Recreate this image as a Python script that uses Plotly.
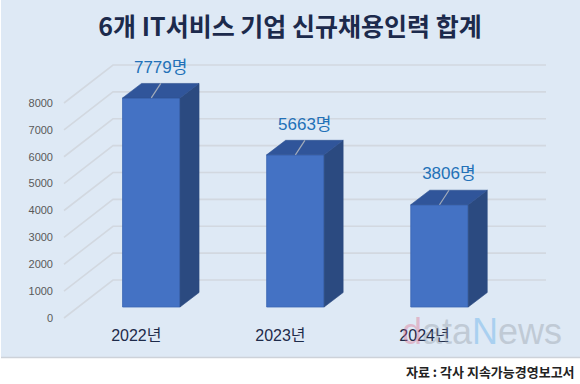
import plotly.graph_objects as go

# ---- data ----
YEARS = ["2022년", "2023년", "2024년"]
VALUES = [7779, 5663, 3806]
Y_TICKS = [0, 1000, 2000, 3000, 4000, 5000, 6000, 7000, 8000]
TITLE = "6개 IT서비스 기업 신규채용인력 합계"
SOURCE = "자료 : 각사 지속가능경영보고서"
UNIT = "명"

# ---- geometry / style (pixels) ----
W, H = 580, 384
MB = 62                      # bottom margin -> plot area 0..322 px
PH = H - MB
K = 0.026875                 # px per value unit
Y0_BAR = 307                 # pixel of value 0 on bar front face
Y0_LAB = 318                 # pixel of value 0 on front (label) plane
Y0_BACK = 280                # pixel of value 0 on back wall
XC0, XS = 151.3, 144.1       # pixel centre of first bar, spacing
BW = 57.5 / XS               # bar width (x units)
DX = 19 / XS                 # depth offset x
DY = 14.5 / K                # depth offset y (value units)

def px_to_x(p):
    return (p - XC0) / XS

def px_to_paper_y(p):
    return (PH - p) / PH

xs = list(range(len(VALUES)))
FONT_LAT = "Liberation Sans, Arial, Noto Sans CJK KR"
FONT_KR = "Noto Sans CJK KR, Liberation Sans"

fig = go.Figure()

# front faces
fig.add_trace(go.Bar(x=xs, y=VALUES, width=BW,
                     marker=dict(color="#4472c4", line=dict(color="#3b66b4", width=0.8)),
                     hoverinfo="skip", showlegend=False))

# side faces
sx, sy = [], []
for i, v in zip(xs, VALUES):
    r = i + BW / 2
    sx += [r, r, r + DX, r + DX, r, None]
    sy += [0, v, v + DY, DY, 0, None]
fig.add_trace(go.Scatter(x=sx, y=sy, mode="lines", fill="toself",
                         fillcolor="#2b4a80", line=dict(color="#2b4a80", width=0.6),
                         hoverinfo="skip", showlegend=False))

# top faces
tx, ty = [], []
for i, v in zip(xs, VALUES):
    l, r = i - BW / 2, i + BW / 2
    tx += [l, r, r + DX, l + DX, l, None]
    ty += [v, v, v + DY, v + DY, v, None]
fig.add_trace(go.Scatter(x=tx, y=ty, mode="lines", fill="toself",
                         fillcolor="#30559a", line=dict(color="#2e5191", width=0.6),
                         hoverinfo="skip", showlegend=False))

# leader lines
lx, ly = [], []
for i, v in zip(xs, VALUES):
    lx += [i, i + DX * 0.5, None]
    ly += [v, v + DY, None]
fig.add_trace(go.Scatter(x=lx, y=ly, mode="lines",
                         line=dict(color="#a3acba", width=1.2),
                         hoverinfo="skip", showlegend=False))

# value labels
fig.add_trace(go.Scatter(
    x=[i + 0.065 for i in xs],
    y=[v + DY + 15 / K for v in VALUES],
    mode="text", text=[f"{v}{UNIT}" for v in VALUES],
    textposition="middle center",
    textfont=dict(family=FONT_LAT, size=17, color="#2271b8"),
    hoverinfo="skip", showlegend=False, cliponaxis=False))

# dummy trace on yaxis2 so the tick-label axis renders
fig.add_trace(go.Scatter(x=[None], y=[None], yaxis="y2", showlegend=False, hoverinfo="skip"))

# shapes: panel background, bottom shadow, 3D gridlines (all below traces)
shapes = [
    dict(type="rect", xref="paper", yref="paper", layer="below",
         x0=1 / W, x1=1, y0=px_to_paper_y(357), y1=1,
         fillcolor="#dee9f5", line=dict(width=0)),
    dict(type="line", xref="paper", yref="paper", layer="below",
         x0=1 / W, x1=1, y0=px_to_paper_y(357.5), y1=px_to_paper_y(357.5),
         line=dict(color="#cdd2d9", width=1.5)),
]
off_front = (Y0_LAB - Y0_BAR) / K
off_back = (Y0_BAR - Y0_BACK) / K
for v in Y_TICKS:
    x_f, x_b, x_r = px_to_x(64), px_to_x(113), px_to_x(546)
    y_f, y_b = v - off_front, v + off_back
    shapes.append(dict(type="path", xref="x", yref="y", layer="below",
                       path=f"M {x_f},{y_f} L {x_b},{y_b} L {x_r},{y_b}",
                       line=dict(color="#d2d8e0", width=1.6)))

watermark = ('<span style="color:#e0607f">d</span>'
             '<span style="color:#8a929c">ata</span>'
             '<span style="color:#4aa3e8">N</span>'
             '<span style="color:#8a929c">ews</span>')

fig.update_layout(
    width=W, height=H,
    margin=dict(l=0, r=0, t=0, b=MB, pad=0),
    paper_bgcolor="white", plot_bgcolor="rgba(0,0,0,0)",
    title=dict(text=f"<b>{TITLE}</b>", x=0.5, xanchor="center",
               y=1 - 27 / H, yanchor="middle",
               font=dict(family=FONT_KR, size=25, color="#1c2a4c")),
    xaxis=dict(range=[px_to_x(0), px_to_x(W)], tickvals=xs, ticktext=YEARS,
               showgrid=False, zeroline=False, showline=False, ticks="",
               ticklabelshift=-15, ticklabelstandoff=2,
               tickfont=dict(family=FONT_LAT, size=16, color="#1e2b4a")),
    yaxis=dict(range=[(Y0_BAR - PH) / K, Y0_BAR / K], visible=False,
               showgrid=False, zeroline=False),
    yaxis2=dict(range=[(Y0_LAB - PH) / K, Y0_LAB / K], overlaying="y",
                anchor="free", position=53 / W, side="left",
                tickvals=Y_TICKS, ticks="", showgrid=False, zeroline=False,
                showline=False,
                tickfont=dict(family=FONT_LAT, size=11, color="#595959")),
    shapes=shapes,
    annotations=[
        dict(text=watermark, xref="paper", yref="paper", opacity=0.35,
             x=482 / W, y=px_to_paper_y(331), xanchor="center", yanchor="middle",
             showarrow=False, font=dict(family=FONT_LAT, size=36)),
        dict(text=f"<b>{SOURCE}</b>", xref="paper", yref="paper",
             x=577 / W, y=px_to_paper_y(371), xanchor="right", yanchor="middle",
             showarrow=False, font=dict(family=FONT_KR, size=13, color="#222222")),
    ],
)

fig.write_html("out.html", config={"displayModeBar": False},
               post_script="document.body.style.margin='0';")
